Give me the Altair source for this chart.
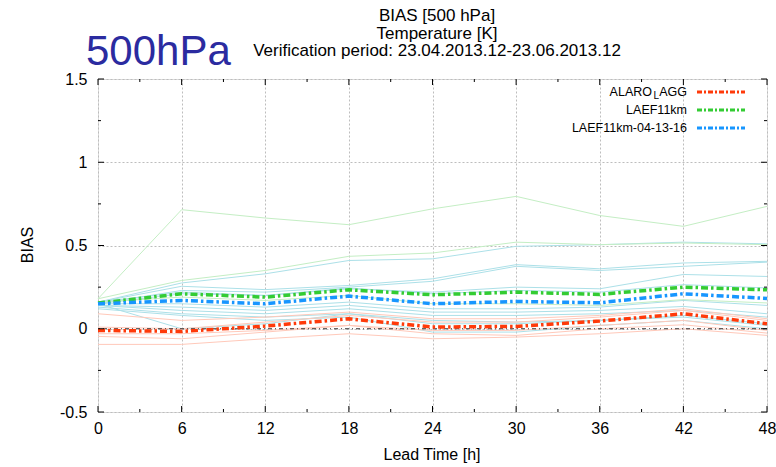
import altair as alt
import pandas as pd

# ---------------- data ----------------
lead = [0, 6, 12, 18, 24, 30, 36, 42, 48]
lead_minor = [3, 9, 15, 21, 27, 33, 39, 45]
y_major = [-0.5, 0, 0.5, 1, 1.5]
y_minor = [-0.25, 0.25, 0.75, 1.25]

alaro = [-0.01, -0.016, 0.016, 0.06, 0.01, 0.014, 0.046, 0.09, 0.03]
laef = [0.154, 0.21, 0.19, 0.234, 0.204, 0.22, 0.206, 0.25, 0.234]
laef_041316 = [0.15, 0.17, 0.15, 0.196, 0.15, 0.164, 0.156, 0.21, 0.182]

green_thin = [
    [0.18, 0.715, 0.665, 0.625, 0.72, 0.795, 0.68, 0.615, 0.735],
    [0.18, 0.29, 0.35, 0.435, 0.455, 0.52, 0.505, 0.515, 0.505],
    [0.16, 0.19, 0.17, 0.2, 0.15, 0.15, 0.14, 0.175, 0.155],
]
cyan_thin = [
    [0.16, 0.275, 0.33, 0.41, 0.42, 0.495, 0.505, 0.52, 0.51],
    [0.16, 0.255, 0.235, 0.26, 0.3, 0.385, 0.36, 0.395, 0.405],
    [0.15, 0.23, 0.22, 0.25, 0.285, 0.375, 0.35, 0.375, 0.4],
    [0.15, 0.21, 0.2, 0.24, 0.22, 0.25, 0.24, 0.326, 0.314],
    [0.16, 0.22, 0.2, 0.245, 0.21, 0.23, 0.22, 0.265, 0.245],
    [0.15, 0.15, 0.13, 0.16, 0.12, 0.12, 0.13, 0.17, 0.14],
    [0.14, 0.13, 0.11, 0.14, 0.1, 0.1, 0.11, 0.134, 0.09],
    [0.14, 0.11, 0.09, 0.12, 0.08, 0.08, 0.09, 0.11, 0.07],
    [0.15, 0.0, 0.03, 0.09, 0.03, 0.03, 0.05, 0.07, 0.02],
    [0.13, 0.09, 0.07, 0.09, 0.05, 0.04, 0.05, 0.08, 0.03],
    [0.12, 0.08, 0.05, 0.07, -0.02, -0.02, 0.02, 0.05, 0.0],
]
red_thin = [
    [0.09, 0.05, 0.07, 0.1, 0.06, 0.06, 0.08, 0.12, 0.06],
    [0.01, 0.0, 0.04, 0.08, 0.04, 0.04, 0.07, 0.11, 0.05],
    [-0.03, -0.03, -0.01, 0.02, -0.01, -0.01, 0.02, 0.05, -0.01],
    [-0.046, -0.06, -0.02, 0.02, -0.03, -0.04, 0.0, 0.024, -0.026],
    [-0.094, -0.094, -0.06, -0.03, -0.06, -0.05, -0.03, 0.0, -0.04],
]

main_names = ["ALARO_LAGG", "LAEF11km", "LAEF11km-04-13-16"]
main_values = [alaro, laef, laef_041316]
main_colors = ["#ff3a0a", "#33cc33", "#1796ff"]

title_lines = ["BIAS [500 hPa]", "Temperature [K]",
               "Verification period: 23.04.2013.12-23.06.2013.12"]
level_label = "500hPa"
x_title = "Lead Time [h]"
y_title = "BIAS"

# ---------------- layout constants ----------------
W, H = 669, 333
FONT = "Liberation Sans"
XMIN, XMAX, YMIN, YMAX = 0, 48, -0.5, 1.5
tick_y_len = 6 / H * (YMAX - YMIN)
tick_x_len = 6 / W * (XMAX - XMIN)

xscale = alt.Scale(domain=[XMIN, XMAX], nice=False, zero=False)
yscale = alt.Scale(domain=[YMIN, YMAX], nice=False, zero=False)
xaxis = alt.Axis(values=lead, grid=True, gridColor="#bdbdbd", gridDash=[2, 2],
                 ticks=False, domain=False, labelFontSize=16, labelPadding=8,
                 labelColor="black", labelFont=FONT, labelFlush=False, title=None)
yaxis = alt.Axis(values=y_major, grid=True, gridColor="#bdbdbd", gridDash=[2, 2],
                 ticks=False, domain=False, labelFontSize=16, labelPadding=11,
                 labelColor="black", labelFont=FONT, labelExpr="toString(datum.value)",
                 title=None)


def X(f="lead"):
    return alt.X(f"{f}:Q", scale=xscale, axis=xaxis)


def Y(f="v"):
    return alt.Y(f"{f}:Q", scale=yscale, axis=yaxis)


layers = []

# thin member lines
rows = []
for grp, lst in (("c", cyan_thin), ("g", green_thin), ("r", red_thin)):
    for i, vals in enumerate(lst):
        for t, v in zip(lead, vals):
            rows.append({"lead": t, "v": v, "series": f"{grp}{i}", "grp": grp})
thin_df = pd.DataFrame(rows)
layers.append(
    alt.Chart(thin_df).mark_line(strokeWidth=1).encode(
        x=X(), y=Y(), detail="series:N",
        color=alt.Color("grp:N", scale=alt.Scale(domain=["g", "c", "r"],
                        range=["#c4eec4", "#ace0e8", "#ffc9ba"]), legend=None)
    )
)

# zero line
layers.append(
    alt.Chart(pd.DataFrame({"v": [0.0]})).mark_rule(
        color="#333333", strokeWidth=1, strokeDash=[4, 3, 1, 3]).encode(y=Y())
)

# main lines
for name, vals, col in zip(main_names, main_values, main_colors):
    df = pd.DataFrame({"lead": lead, "v": vals})
    layers.append(
        alt.Chart(df).mark_line(color=col, strokeWidth=3.5,
                                strokeDash=[7, 3, 2.5, 3]).encode(x=X(), y=Y())
    )

# inward ticks (gnuplot style) on all four sides
def xticks(vals, ln):
    df = pd.DataFrame({"lead": vals})
    df["b0"], df["b1"] = YMIN, YMIN + ln
    df["t0"], df["t1"] = YMAX, YMAX - ln
    base = alt.Chart(df).mark_rule(color="black", strokeWidth=1)
    return [base.encode(x=X(), y=Y("b0"), y2="b1:Q"),
            base.encode(x=X(), y=Y("t0"), y2="t1:Q")]


def yticks(vals, ln):
    df = pd.DataFrame({"v": vals})
    df["l0"], df["l1"] = XMIN, XMIN + ln
    df["r0"], df["r1"] = XMAX, XMAX - ln
    base = alt.Chart(df).mark_rule(color="black", strokeWidth=1)
    return [base.encode(y=Y(), x=X("l0"), x2="l1:Q"),
            base.encode(y=Y(), x=X("r0"), x2="r1:Q")]


layers += xticks(lead, tick_y_len) + xticks(lead_minor, tick_y_len / 2)
layers += yticks(y_major, tick_x_len) + yticks(y_minor, tick_x_len / 2)

# titles
dummy = pd.DataFrame({"a": [0]})
for txt, yy in zip(title_lines, [-58, -40.5, -23]):
    layers.append(alt.Chart(dummy).mark_text(
        text=txt, font=FONT, fontSize=17, align="center", baseline="alphabetic",
        color="black").encode(x=alt.value(339), y=alt.value(yy)))
layers.append(alt.Chart(dummy).mark_text(
    text=level_label, font=FONT, fontSize=42, align="left", baseline="alphabetic",
    color="#2b2ba0").encode(x=alt.value(-12), y=alt.value(-14)))
layers.append(alt.Chart(dummy).mark_text(
    text=x_title, font=FONT, fontSize=16, align="center", baseline="middle",
    color="black").encode(x=alt.value(334), y=alt.value(376)))
layers.append(alt.Chart(dummy).mark_text(
    text=y_title, font=FONT, fontSize=16, align="center", baseline="middle", angle=270,
    color="black").encode(x=alt.value(-70), y=alt.value(166)))

# legend (drawn manually: label right-aligned, sample on the right)
leg_y = [13, 31, 49]
for name, col, yy in zip(main_names, main_colors, leg_y):
    if "_" in name:
        a, b = name.split("_")
        sub, rest = b[0], b[1:]
        layers.append(alt.Chart(dummy).mark_text(
            text=rest, font=FONT, fontSize=12.5, align="right", baseline="middle",
            color="black").encode(x=alt.value(589), y=alt.value(yy)))
        layers.append(alt.Chart(dummy).mark_text(
            text=sub, font=FONT, fontSize=10, align="right", baseline="middle",
            color="black").encode(x=alt.value(561), y=alt.value(yy + 4)))
        layers.append(alt.Chart(dummy).mark_text(
            text=a, font=FONT, fontSize=12.5, align="right", baseline="middle",
            color="black").encode(x=alt.value(554), y=alt.value(yy)))
    else:
        layers.append(alt.Chart(dummy).mark_text(
            text=name, font=FONT, fontSize=12.5, align="right", baseline="middle",
            color="black").encode(x=alt.value(589), y=alt.value(yy)))
    layers.append(alt.Chart(dummy).mark_rule(
        color=col, strokeWidth=3, strokeDash=[5, 2, 2, 2]).encode(
        x=alt.value(599), x2=alt.value(647), y=alt.value(yy)))

chart = alt.layer(*layers).properties(
    width=W, height=H,
    autosize=alt.AutoSizeParams(type="none"),
    padding={"left": 98, "top": 79, "right": 9, "bottom": 55},
    background="white",
).configure_view(stroke="black", strokeWidth=1.5).configure(font=FONT)

chart.save("out.html", embed_options={"renderer": "svg", "actions": False})
